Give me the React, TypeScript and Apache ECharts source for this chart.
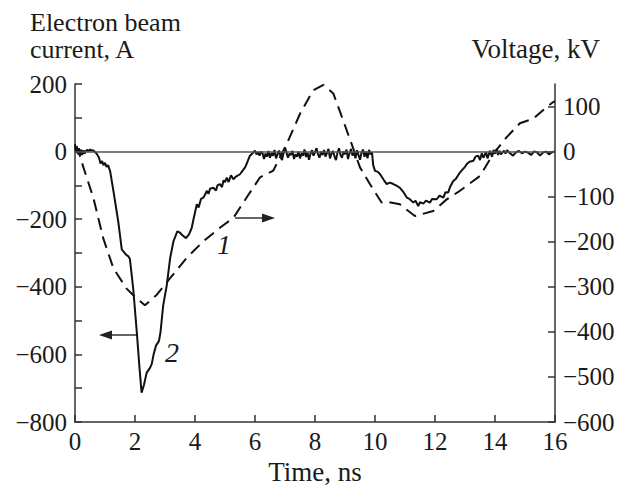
import React, { useEffect, useRef } from "react";
import * as echarts from "echarts";

// Curve 2: electron beam current (A) vs time (ns)
const currentSeries: [number, number][] = [
  [0.0, 22], [0.03, -4], [0.06, 16], [0.1, -8], [0.13, 10], [0.17, -12], [0.2, 6], [0.24, -10],
  [0.28, 4], [0.32, -6], [0.36, 2], [0.4, 5], [0.45, 2], [0.5, 6], [0.55, 3], [0.6, 4], [0.65, 0],
  [0.7, -4], [0.75, -10], [0.8, -18], [0.85, -35], [0.9, -28], [0.95, -40], [1.0, -33],
  [1.05, -45], [1.1, -40], [1.17, -57], [1.28, -116], [1.44, -206], [1.56, -290], [1.62, -296],
  [1.7, -305], [1.78, -310], [1.83, -318], [1.94, -405], [2.06, -534], [2.15, -640], [2.22, -713],
  [2.3, -690], [2.39, -654], [2.5, -640], [2.56, -628], [2.62, -600], [2.7, -574], [2.8, -560],
  [2.85, -534], [2.94, -455], [3.06, -395], [3.17, -316], [3.28, -266], [3.41, -236], [3.5, -240],
  [3.56, -246], [3.7, -256], [3.8, -245], [3.89, -226], [3.95, -200], [4.0, -180], [4.06, -156],
  [4.12, -165], [4.2, -140], [4.28, -136], [4.35, -125], [4.39, -116], [4.45, -125], [4.5, -110],
  [4.61, -107], [4.7, -115], [4.75, -100], [4.83, -96], [4.9, -105], [4.95, -85], [5.0, -90],
  [5.06, -77], [5.12, -90], [5.2, -70], [5.28, -82], [5.35, -75], [5.5, -67], [5.6, -55],
  [5.67, -47], [5.75, -30], [5.83, -12], [5.92, -5], [6.0, 3], [6.05, -8], [6.1, -2], [6.15, -12],
  [6.2, 0], [6.25, -5], [6.3, -22], [6.35, -6], [6.4, -15], [6.45, 2], [6.5, -18], [6.55, -4],
  [6.6, -12], [6.65, 5], [6.7, -20], [6.75, -8], [6.8, 3], [6.85, -14], [6.9, -25], [6.95, -5],
  [7.0, 12], [7.05, -3], [7.1, -18], [7.15, -6], [7.2, -10], [7.25, 2], [7.3, -22], [7.35, -8],
  [7.4, -15], [7.45, 0], [7.5, -20], [7.55, -5], [7.6, -12], [7.65, 6], [7.7, -16], [7.75, -3],
  [7.8, -24], [7.85, -6], [7.9, 4], [7.95, -12], [8.0, -2], [8.05, 10], [8.1, -8], [8.15, -18],
  [8.2, 0], [8.25, -10], [8.3, 5], [8.35, -15], [8.4, -4], [8.45, 8], [8.5, -20], [8.55, -6],
  [8.6, 2], [8.65, -14], [8.7, -25], [8.75, -3], [8.8, 10], [8.85, -10], [8.9, -18], [8.95, 0],
  [9.0, -8], [9.05, 6], [9.1, -22], [9.15, -5], [9.2, 8], [9.25, -12], [9.3, -2], [9.35, -20],
  [9.4, 4], [9.45, -10], [9.5, -24], [9.55, -3], [9.6, 6], [9.65, -15], [9.7, 0], [9.75, -20],
  [9.8, 5], [9.85, -8], [9.9, -2], [9.94, -40], [10.0, -57], [10.1, -60], [10.17, -67],
  [10.3, -85], [10.39, -96], [10.5, -92], [10.61, -96], [10.7, -100], [10.83, -107], [10.95, -120],
  [11.06, -136], [11.15, -140], [11.28, -151], [11.35, -145], [11.44, -161], [11.5, -150],
  [11.61, -154], [11.7, -145], [11.83, -151], [11.9, -140], [12.06, -141], [12.15, -130],
  [12.28, -136], [12.35, -120], [12.44, -121], [12.5, -105], [12.61, -87], [12.7, -80],
  [12.83, -62], [12.9, -55], [13.0, -45], [13.06, -37], [13.15, -30], [13.28, -27], [13.35, -15],
  [13.44, -12], [13.5, -25], [13.56, -5], [13.61, -18], [13.7, -2], [13.75, -20], [13.83, 2],
  [13.9, -15], [13.95, 5], [14.0, -6], [14.06, 8], [14.1, -10], [14.15, 2], [14.2, -8], [14.3, 3],
  [14.35, -6], [14.4, 4], [14.5, -5], [14.6, -12], [14.7, -2], [14.8, 2], [14.9, -5], [15.0, 0],
  [15.1, -3], [15.2, -10], [15.3, 0], [15.4, -2], [15.5, -12], [15.6, -3], [15.7, 0], [15.8, -8],
  [15.9, -2], [16.0, 0],
];

// Curve 1: voltage (kV) vs time (ns)
const voltageSeries: [number, number][] = [
  [0.0, 12], [0.1, 5], [0.28, -35], [0.61, -102], [0.94, -192], [1.28, -259], [1.72, -304],
  [2.06, -326], [2.33, -341], [2.72, -318], [3.17, -281], [3.72, -236], [4.28, -199],
  [4.83, -169], [5.28, -147], [5.72, -102], [6.17, -57], [6.61, -42], [6.83, -13], [7.06, 17],
  [7.5, 84], [7.94, 136], [8.28, 148], [8.61, 129], [8.94, 69], [9.22, 17], [9.5, -35],
  [9.83, -72], [10.22, -113], [10.39, -111], [10.83, -117], [11.33, -143], [11.94, -132],
  [12.39, -106], [12.83, -87], [13.5, -54], [13.94, -5], [14.39, 32], [14.83, 63], [15.28, 73],
  [15.72, 99], [15.94, 110], [16.0, 112],
];

const voltageTicks = [-600, -500, -400, -300, -200, -100, 0, 100];
const currentLabels = [-800, -600, -400, -200, 0, 200];

const FONT = "Liberation Serif";
const INK = "#1a1a1a";
const AXIS = "#333";
const LABEL_SIZE = 25;
const TITLE_SIZE = 26;

const fmt = (v: number) => (v < 0 ? "\u2212" + Math.abs(v) : String(v));

export default function App() {
  const ref = useRef<HTMLDivElement>(null);
  useEffect(() => {
    if (!ref.current) return;
    const chart = echarts.init(ref.current, null, { renderer: "svg" });
    const textStyle = { fontFamily: FONT, fontSize: TITLE_SIZE, fill: INK };
    chart.setOption({
      animation: false,
      backgroundColor: "#fff",
      textStyle: { fontFamily: FONT, color: INK },
      grid: { left: 75, right: 66, top: 84, bottom: 67, outerBoundsMode: "none" },
      xAxis: {
        type: "value",
        min: 0,
        max: 16,
        interval: 2,
        name: "Time, ns",
        nameLocation: "middle",
        nameGap: 31,
        nameTextStyle: { fontFamily: FONT, fontSize: 27, color: INK },
        axisLine: { onZero: false, lineStyle: { color: AXIS, width: 1.5 } },
        axisTick: { inside: true, length: 7, lineStyle: { color: AXIS, width: 1.5 } },
        axisLabel: { fontFamily: FONT, fontSize: LABEL_SIZE, color: INK, margin: 7 },
        splitLine: { show: false },
      },
      yAxis: [
        {
          type: "value",
          min: -800,
          max: 200,
          interval: 100,
          position: "left",
          axisLine: { show: true, onZero: false, lineStyle: { color: AXIS, width: 1.5 } },
          axisTick: { show: true, inside: true, length: 7, lineStyle: { color: AXIS, width: 1.5 } },
          axisLabel: {
            fontFamily: FONT,
            fontSize: LABEL_SIZE,
            color: INK,
            margin: 8,
            formatter: (v: number) => (currentLabels.includes(v) ? fmt(v) : ""),
          },
          splitLine: { show: false },
        },
        {
          type: "value",
          min: -600,
          max: 150,
          interval: 100,
          position: "right",
          axisLine: { show: true, onZero: false, lineStyle: { color: AXIS, width: 1.5 } },
          axisTick: {
            show: true,
            inside: true,
            length: 7,
            customValues: voltageTicks,
            lineStyle: { color: AXIS, width: 1.5 },
          },
          axisLabel: {
            fontFamily: FONT,
            fontSize: LABEL_SIZE,
            color: INK,
            margin: 8,
            customValues: voltageTicks,
            formatter: (v: number) => (voltageTicks.includes(v) ? fmt(v) : ""),
          },
          splitLine: { show: false },
        },
      ],
      series: [
        {
          name: "Voltage",
          type: "line",
          yAxisIndex: 1,
          data: voltageSeries,
          showSymbol: false,
          smooth: false,
          lineStyle: { color: "#111", width: 2, type: [12, 7] },
          z: 3,
        },
        {
          name: "Current",
          type: "line",
          yAxisIndex: 0,
          data: currentSeries,
          showSymbol: false,
          lineStyle: { color: "#111", width: 2 },
          z: 4,
          markLine: {
            silent: true,
            symbol: "none",
            label: { show: false },
            lineStyle: { color: "#555", width: 1.5, type: "solid" },
            data: [{ yAxis: 0 }],
          },
        },
      ],
      graphic: [
        {
          type: "text",
          left: 30,
          top: 9,
          style: { ...textStyle, text: "Electron beam\ncurrent, A", lineHeight: 27 },
        },
        { type: "text", right: 21, top: 35, style: { ...textStyle, fontSize: 27, text: "Voltage, kV" } },
        // arrow for curve 1 (points right, to voltage axis)
        { type: "line", shape: { x1: 235, y1: 218, x2: 266, y2: 218 }, style: { stroke: "#333", lineWidth: 1.5 } },
        { type: "polygon", shape: { points: [[275, 218], [262, 213.5], [262, 222.5]] }, style: { fill: "#222" } },
        // arrow for curve 2 (points left, to current axis)
        { type: "line", shape: { x1: 137, y1: 335, x2: 108, y2: 335 }, style: { stroke: "#333", lineWidth: 1.5 } },
        { type: "polygon", shape: { points: [[99, 335], [112, 330.5], [112, 339.5]] }, style: { fill: "#222" } },
        {
          type: "text",
          x: 224,
          y: 244,
          style: { text: "1", fontFamily: FONT, fontSize: 28, fontStyle: "italic", fill: INK, align: "center", verticalAlign: "middle" },
        },
        {
          type: "text",
          x: 172,
          y: 352,
          style: { text: "2", fontFamily: FONT, fontSize: 28, fontStyle: "italic", fill: INK, align: "center", verticalAlign: "middle" },
        },
      ],
    });
    return () => chart.dispose();
  }, []);
  return (
    <div
      ref={ref}
      style={{ position: "absolute", left: 0, top: 0, width: 621, height: 489, background: "#fff" }}
    />
  );
}
